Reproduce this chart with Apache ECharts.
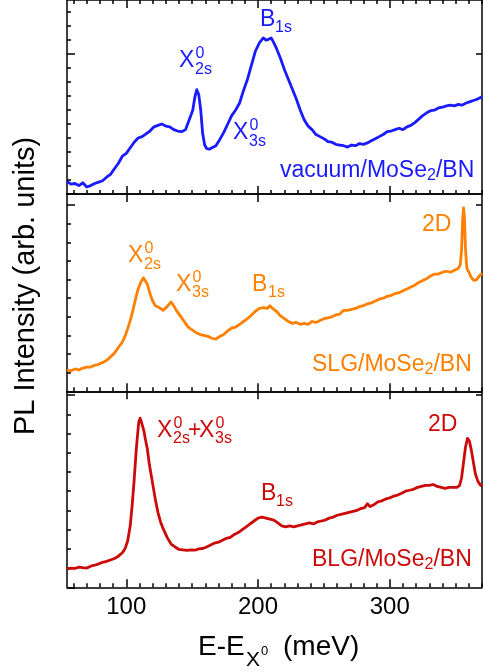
<!DOCTYPE html>
<html>
<head>
<meta charset="utf-8">
<script src="https://cdn.jsdelivr.net/npm/echarts@6/dist/echarts.min.js"></script>
<style>html,body{margin:0;padding:0;background:#fff}#c{width:483px;height:672px}</style>
</head>
<body>
<div id="c"></div>
<script>
// ---- data (E - E_X0 in meV, intensity in arb. units) ----
const xMajorTicks = [100, 200, 300];
const xMinorTicks = [60,70,80,90,110,120,130,140,150,160,170,180,190,210,220,230,240,250,260,270,280,290,310,320,330,340,350,360,370];
const xTickLabels = ['100', '200', '300'];

const vacuumData = [[55,0.9],[58,0.7],[61,0.75],[64,0.6],[67,0.8],[70,0.5],[73,0.6],[76,0.75],[79,0.85],[82,0.95],[85,1.2],[88,1.4],[91,1.8],[94,2.2],[97,2.7],[100,2.9],[103,3.3],[106,3.7],[109,4.0],[112,4.1],[115,4.3],[118,4.5],[121,4.8],[124,4.9],[127,5.0],[130,4.85],[133,4.8],[136,4.6],[139,4.5],[142,4.45],[145,4.6],[147,5.1],[149,5.6],[150.5,6.0],[152,6.9],[153.5,7.45],[155,7.1],[156.5,6.0],[158,4.3],[159.5,3.5],[161,3.25],[163,3.2],[165,3.3],[168,3.45],[171,3.9],[174,4.4],[177,5.0],[180,5.6],[183,6.0],[186,6.5],[189,7.4],[192,8.2],[195,9.2],[198,10.2],[201,10.8],[204,11.15],[206,11.0],[208,11.05],[210,11.15],[212,10.8],[214,10.4],[217,9.7],[220,8.9],[223,8.2],[226,7.5],[229,6.8],[232,6.0],[235,5.3],[238,4.85],[241,4.6],[244,4.25],[247,4.1],[250,3.95],[253,3.75],[256,3.7],[259,3.55],[262,3.5],[265,3.45],[268,3.35],[271,3.5],[274,3.45],[277,3.6],[280,3.55],[283,3.65],[286,3.8],[289,3.95],[292,4.1],[295,4.25],[298,4.45],[301,4.5],[304,4.6],[307,4.7],[310,4.6],[313,4.8],[316,4.9],[319,5.1],[322,5.35],[325,5.6],[328,5.8],[331,5.95],[334,6.0],[337,6.15],[340,6.2],[343,6.3],[346,6.35],[349,6.3],[352,6.4],[355,6.35],[358,6.5],[361,6.6],[364,6.7],[367,6.8],[370,6.95]];

const slgData = [[55,1.15],[58,1.1],[61,1.2],[64,1.15],[67,1.25],[70,1.3],[73,1.3],[76,1.4],[79,1.45],[82,1.55],[85,1.65],[88,1.85],[91,2.05],[94,2.35],[97,2.65],[99,2.95],[101,3.35],[103,3.8],[105,4.35],[107,4.95],[109,5.5],[111,5.85],[113,6.1],[114.5,6.05],[116,5.75],[118,5.25],[120,4.85],[122,4.6],[125,4.5],[128,4.35],[131,4.55],[134,4.8],[136,4.6],[138,4.35],[141,4.05],[144,3.75],[147,3.45],[150,3.3],[153,3.15],[156,3.05],[159,3.0],[162,2.95],[165,2.85],[168,2.8],[171,2.95],[174,3.05],[177,3.25],[180,3.4],[183,3.45],[186,3.6],[189,3.75],[192,3.9],[195,4.1],[198,4.3],[201,4.45],[204,4.5],[207,4.45],[209,4.6],[211,4.45],[214,4.3],[217,4.05],[220,3.9],[223,3.75],[226,3.65],[229,3.7],[232,3.6],[235,3.65],[238,3.6],[241,3.75],[244,3.7],[247,3.8],[250,3.9],[253,3.95],[256,4.0],[259,4.1],[262,4.15],[265,4.35],[268,4.35],[271,4.4],[274,4.45],[277,4.55],[280,4.6],[283,4.7],[286,4.75],[289,4.85],[292,4.95],[295,5.0],[298,5.1],[301,5.15],[304,5.25],[307,5.3],[310,5.4],[313,5.5],[316,5.6],[319,5.7],[322,5.85],[325,5.95],[328,6.05],[331,6.2],[334,6.3],[337,6.3],[340,6.4],[343,6.45],[346,6.4],[349,6.5],[352,6.6],[353.5,6.8],[354.5,7.6],[355.3,9.2],[356,9.85],[356.7,9.3],[357.5,7.6],[358.5,6.6],[360,6.4],[362,6.1],[364,5.95],[366,6.0],[368,6.2],[370,6.35]];

const blgData = [[55,0.95],[58,1.0],[61,0.98],[64,1.05],[67,1.02],[70,1.0],[73,1.1],[76,1.15],[79,1.22],[82,1.3],[85,1.35],[88,1.42],[91,1.5],[94,1.62],[97,1.8],[99,2.0],[101,2.4],[103,3.2],[104.5,4.3],[106,5.6],[107.5,7.1],[108.5,7.9],[109.5,8.6],[110.5,8.8],[111.5,8.6],[112.5,8.5],[113.5,8.1],[114.5,7.7],[116,7.2],[117.5,6.4],[119,5.8],[120.5,5.2],[122,4.6],[124,3.9],[126,3.4],[128,3.05],[131,2.6],[134,2.25],[137,2.1],[140,1.97],[143,1.95],[146,1.92],[149,1.95],[152,1.93],[155,2.0],[158,2.02],[161,2.1],[164,2.2],[167,2.3],[170,2.35],[173,2.45],[176,2.55],[179,2.6],[182,2.75],[185,2.85],[188,3.0],[191,3.15],[194,3.3],[197,3.45],[200,3.6],[203,3.65],[206,3.6],[209,3.55],[212,3.5],[215,3.35],[218,3.2],[221,3.15],[224,3.2],[227,3.15],[230,3.2],[233,3.25],[236,3.3],[239,3.35],[242,3.3],[245,3.4],[248,3.45],[251,3.5],[254,3.6],[257,3.65],[260,3.75],[263,3.8],[266,3.85],[269,3.9],[272,3.95],[275,4.0],[278,4.1],[281,4.15],[283,4.35],[285,4.2],[288,4.3],[291,4.45],[294,4.5],[297,4.6],[300,4.65],[303,4.75],[306,4.8],[309,4.9],[312,5.0],[315,5.05],[318,5.1],[321,5.2],[324,5.25],[327,5.3],[330,5.3],[333,5.35],[336,5.25],[339,5.2],[342,5.15],[345,5.2],[348,5.2],[351,5.2],[353,5.3],[354.5,5.7],[356,6.5],[357.5,7.3],[359,7.75],[360.5,7.6],[362,7.1],[363.5,6.5],[365,5.9],[367,5.5],[369,5.3],[370,5.35]];

const xTitle = 'E-E';
const yTitle = 'PL Intensity (arb. units)';

// ---- layout / styling ----
const FONT = 'Liberation Sans, Arial, sans-serif';
const colors = ['#1a1aff', '#ff8000', '#cc0a0a'];
const series = [vacuumData, slgData, blgData];
const grids = [
  {left: 67, width: 415, top: 0, height: 194, ymax: 13.86},
  {left: 67, width: 415, top: 194, height: 197.3, ymax: 10.6},
  {left: 67, width: 415, top: 391.3, height: 196, ymax: 10.2}
];
const AX = {color: '#000', width: 1.5};
const MAIN = 23, SUB = 16;

const xAxes = [], yAxes = [], ser = [];
grids.forEach((g, i) => {
  const base = {gridIndex: i, type: 'value', min: 55, max: 370, splitLine: {show: false}};
  const mainIdx = xAxes.length;
  xAxes.push(Object.assign({}, base, {
    position: 'bottom',
    axisLine: {show: true, onZero: false, lineStyle: AX},
    axisTick: {show: true, inside: true, length: 8, customValues: xMajorTicks, lineStyle: AX},
    axisLabel: {show: i === 2, customValues: xMajorTicks, formatter: v => xTickLabels[xMajorTicks.indexOf(v)] || '',
      fontSize: 24, color: '#000', fontFamily: FONT, margin: 8}
  }));
  xAxes.push(Object.assign({}, base, {
    position: 'bottom', axisLine: {show: false, onZero: false},
    axisTick: {show: true, inside: true, length: 4, customValues: xMinorTicks, lineStyle: AX},
    axisLabel: {show: false}
  }));
  xAxes.push(Object.assign({}, base, {
    position: 'top', axisLine: {show: true, onZero: false, lineStyle: AX},
    axisTick: {show: true, inside: true, length: 8, customValues: xMajorTicks, lineStyle: AX},
    axisLabel: {show: false}
  }));
  if (i === 0) {
    xAxes.push(Object.assign({}, base, {
      position: 'top', axisLine: {show: false, onZero: false},
      axisTick: {show: true, inside: true, length: 4, customValues: xMinorTicks, lineStyle: AX},
      axisLabel: {show: false}
    }));
  }
  const ybase = {gridIndex: i, type: 'value', min: 0, max: g.ymax, splitLine: {show: false}, axisLabel: {show: false}};
  const minorY = [];
  for (let k = 1; k < g.ymax; k++) if (k % 10 !== 0) minorY.push(k);
  const yMainIdx = yAxes.length;
  yAxes.push(Object.assign({}, ybase, {
    position: 'left', axisLine: {show: true, onZero: false, lineStyle: AX},
    axisTick: {show: true, inside: true, length: 8, customValues: [0, 10], lineStyle: AX}
  }));
  yAxes.push(Object.assign({}, ybase, {
    position: 'left', axisLine: {show: false, onZero: false},
    axisTick: {show: true, inside: true, length: 4, customValues: minorY, lineStyle: AX}
  }));
  yAxes.push(Object.assign({}, ybase, {
    position: 'right', axisLine: {show: true, onZero: false, lineStyle: AX},
    axisTick: {show: true, inside: true, length: 6, customValues: [10], lineStyle: AX}
  }));
  ser.push({
    type: 'line', xAxisIndex: mainIdx, yAxisIndex: yMainIdx, data: series[i],
    showSymbol: false, symbol: 'none', lineStyle: {color: colors[i], width: 2.8, join: 'round'}, z: 5, animation: false
  });
});

// ---- text annotations ----
const gfx = [];
function txt(s, x, y, size, color, extra) {
  gfx.push(Object.assign({type: 'text', x: x, y: y, z: 10, silent: true,
    style: {text: s, fontSize: size, fontFamily: FONT, fill: color, align: 'left', verticalAlign: 'middle'}}, extra || {}));
}
function richTxt(main1, sub, main2, x, y, color) {
  gfx.push({type: 'text', x: x, y: y, z: 10, silent: true, style: {
    text: '{m|' + main1 + '}{s|' + sub + '}{m|' + main2 + '}', fontFamily: FONT, fill: color,
    align: 'left', verticalAlign: 'middle',
    rich: {m: {fontSize: MAIN, lineHeight: 26, fontFamily: FONT, fill: color},
           s: {fontSize: SUB, lineHeight: 10, verticalAlign: 'bottom', fontFamily: FONT, fill: color}}
  }});
}
function xLabel(sub, x, y, color) {
  txt('X', x, y, MAIN, color);
  txt('0', x + 16.5, y - 7, SUB, color);
  txt(sub, x + 16, y + 8.5, SUB, color);
}
// top panel
txt('B', 260, 20, MAIN, colors[0]); txt('1s', 275, 28, SUB, colors[0]);
xLabel('2s', 179, 61, colors[0]);
xLabel('3s', 233, 133, colors[0]);
richTxt('vacuum/MoSe', '2', '/BN', 280, 171, colors[0]);
// middle panel
xLabel('2s', 128, 256, colors[1]);
xLabel('3s', 176, 284.5, colors[1]);
txt('B', 252, 285, MAIN, colors[1]); txt('1s', 268, 293, SUB, colors[1]);
txt('2D', 422, 225, MAIN, colors[1]);
richTxt('SLG/MoSe', '2', '/BN', 312, 365, colors[1]);
// bottom panel
xLabel('2s', 157, 430.5, colors[2]);
txt('+', 188, 431, MAIN, colors[2]);
xLabel('3s', 199, 430.5, colors[2]);
txt('B', 261, 493.5, MAIN, colors[2]); txt('1s', 276, 502, SUB, colors[2]);
txt('2D', 428, 425, MAIN, colors[2]);
richTxt('BLG/MoSe', '2', '/BN', 312, 559.5, colors[2]);
// axis titles
txt(xTitle, 198, 647, 28, '#000');
txt('X', 246, 660, 21, '#000');
txt('0', 261, 651, 13, '#000');
txt('(meV)', 283, 647, 28, '#000');
gfx.push({type: 'text', x: 26, y: 286, rotation: Math.PI / 2, z: 10, silent: true,
  style: {text: yTitle, fontSize: 29, fontFamily: FONT, fill: '#000', align: 'center', verticalAlign: 'middle'}});

const chart = echarts.init(document.getElementById('c'), null, {renderer: 'canvas'});
chart.setOption({
  backgroundColor: '#fff',
  animation: false,
  grid: grids.map(g => ({left: g.left, width: g.width, top: g.top, height: g.height, containLabel: false})),
  xAxis: xAxes,
  yAxis: yAxes,
  series: ser,
  graphic: gfx
});
</script>
</body>
</html>
